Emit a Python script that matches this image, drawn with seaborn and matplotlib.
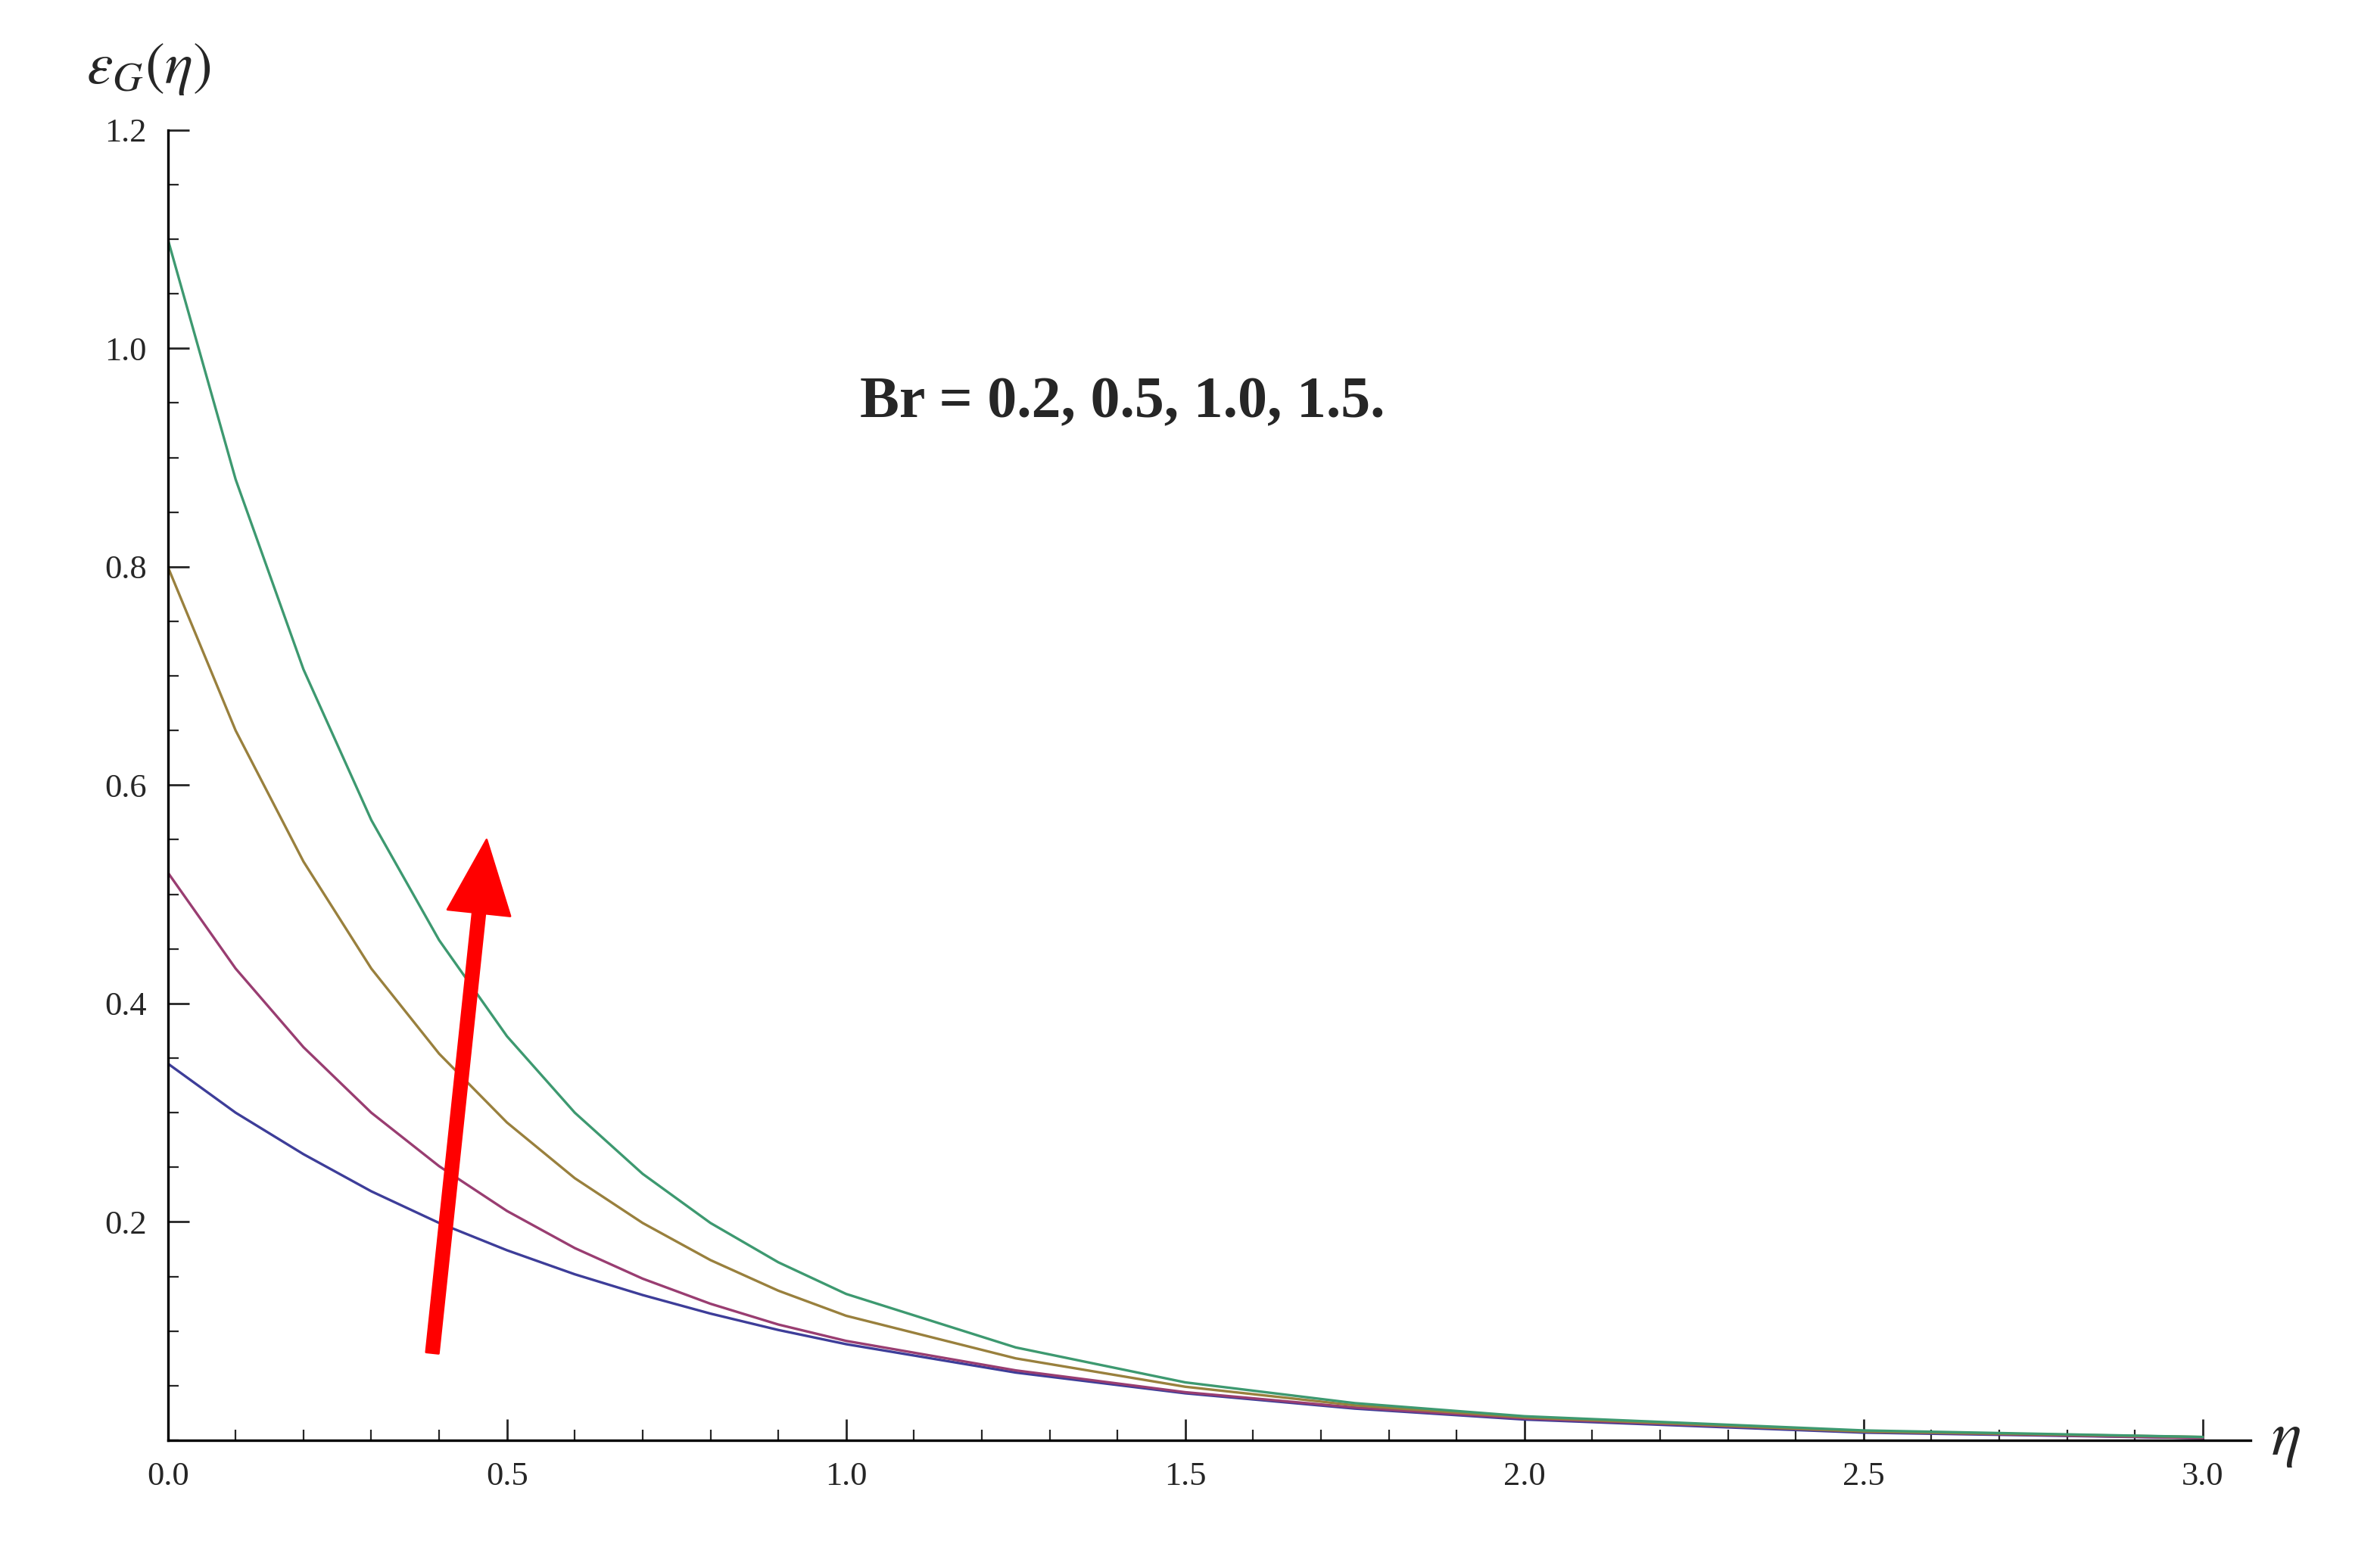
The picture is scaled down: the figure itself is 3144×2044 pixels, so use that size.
import numpy as np
import pandas as pd
import matplotlib
matplotlib.use("Agg")
import matplotlib.pyplot as plt
from matplotlib.ticker import MultipleLocator
import seaborn as sns

eta = [0.0, 0.1, 0.2, 0.3, 0.4, 0.5, 0.6, 0.7, 0.8, 0.9, 1.0, 1.25, 1.5, 1.75, 2.0, 2.5, 3.0]
eg_br02 = [0.345, 0.300, 0.262, 0.228, 0.199, 0.174, 0.152, 0.133, 0.116, 0.101, 0.088, 0.062, 0.043, 0.029, 0.019, 0.007, 0.002]
eg_br05 = [0.520, 0.432, 0.360, 0.300, 0.251, 0.210, 0.176, 0.148, 0.125, 0.106, 0.091, 0.064, 0.044, 0.030, 0.020, 0.008, 0.002]
eg_br10 = [0.800, 0.650, 0.530, 0.432, 0.354, 0.291, 0.240, 0.199, 0.165, 0.137, 0.114, 0.075, 0.049, 0.032, 0.021, 0.008, 0.003]
eg_br15 = [1.100, 0.880, 0.706, 0.568, 0.458, 0.370, 0.300, 0.244, 0.199, 0.163, 0.134, 0.085, 0.053, 0.034, 0.022, 0.009, 0.003]
br_labels = ["0.2", "0.5", "1.0", "1.5"]
colors = ["#3d3d99", "#993d71", "#99803d", "#3d9970"]

df = pd.concat([pd.DataFrame({"eta": eta, "eg": v, "Br": b})
                for v, b in zip([eg_br02, eg_br05, eg_br10, eg_br15], br_labels)])

sns.set_style("white")
plt.rcParams["font.family"] = ["Liberation Serif", "DejaVu Serif"]
plt.rcParams["mathtext.fontset"] = "stix"

fig = plt.figure(figsize=(15.72, 10.22), dpi=200)
ax = fig.add_axes([0.0705, 0.069, 0.875, 0.847])
sns.lineplot(data=df, x="eta", y="eg", hue="Br", palette=colors, legend=False, lw=1.2, ax=ax)

ax.set_xlim(0, 3.07)
ax.set_ylim(0, 1.2)
for s in ["top", "right"]:
    ax.spines[s].set_visible(False)
for s in ["left", "bottom"]:
    ax.spines[s].set_color("black")
    ax.spines[s].set_linewidth(1.2)
ax.set_xticks([0.0, 0.5, 1.0, 1.5, 2.0, 2.5, 3.0])
ax.set_xticklabels(["0.0", "0.5", "1.0", "1.5", "2.0", "2.5", "3.0"])
ax.xaxis.set_minor_locator(MultipleLocator(0.1))
ax.set_yticks([0.2, 0.4, 0.6, 0.8, 1.0, 1.2])
ax.set_yticklabels(["0.2", "0.4", "0.6", "0.8", "1.0", "1.2"])
ax.yaxis.set_minor_locator(MultipleLocator(0.05))
ax.tick_params(which="major", length=10, width=1, direction="in", labelsize=16, pad=10)
ax.tick_params(which="minor", length=5, width=0.8, direction="in")
ax.tick_params(axis="x", which="both", bottom=True)
ax.tick_params(axis="y", which="both", left=True)
ax.set_xlabel("")
ax.set_ylabel("")
ax.text(3.1, 0.0, r"$\eta$", fontsize=30, va="center", ha="left")
ax.text(-0.12, 1.23, r"$\varepsilon_G(\eta)$", fontsize=28, va="bottom", ha="left", clip_on=False)

ax.text(1.02, 0.95, "Br = 0.2, 0.5, 1.0, 1.5.", fontsize=28, fontweight="bold", va="center")
ax.annotate("", xy=(0.47, 0.55), xytext=(0.39, 0.08),
            arrowprops=dict(facecolor="red", edgecolor="red", width=6, headwidth=30, headlength=35))

fig.savefig("out.png", dpi=200)
